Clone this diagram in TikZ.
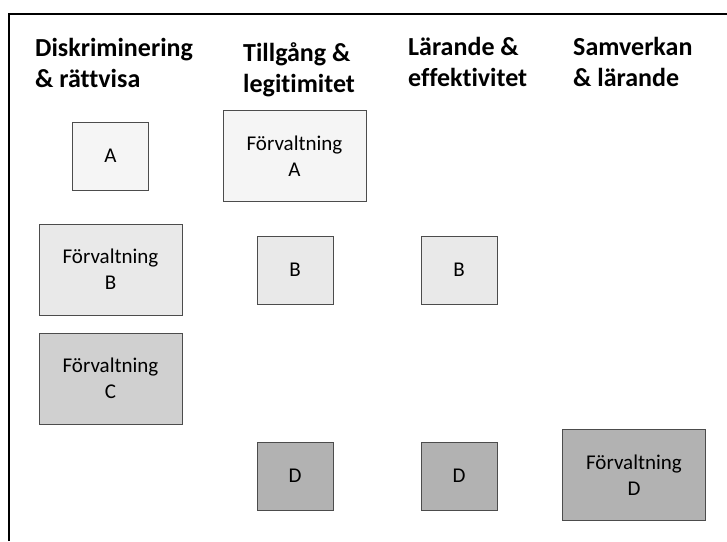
\documentclass[tikz,border=0pt]{standalone}
\usepackage{fontspec}
\setmainfont{Carlito}[Ligatures=NoCommon]
\usepackage{xcolor}
\usepackage{tikz}

\definecolor{levelA}{gray}{0.96}
\definecolor{levelB}{gray}{0.915}
\definecolor{levelC}{gray}{0.815}
\definecolor{levelD}{gray}{0.70}

\begin{document}
\begin{tikzpicture}[
      x=1pt, y=-1pt,
      every node/.style={inner sep=0pt},
      heading/.style={anchor=north west, align=left,
        font=\fontsize{26}{31}\selectfont\bfseries},
      unit/.style={draw=black!70, line width=0.9pt, align=center,
        font=\fontsize{21}{26}\selectfont},
      small/.style={unit, minimum width=76pt, minimum height=68pt},
      large/.style={unit, minimum width=143pt, minimum height=91pt},
    ]
    \useasboundingbox (0,0) rectangle (727,541);
    %% Outer frame, only its left and top sides fall on the page.
    \draw[black, line width=1.2pt] (9,541) -- (9,14) -- (727,14);
    %% Column headings.
    \node[heading] (h1) at (35,38.5)  {Diskriminering\\\& rättvisa};
    \node[heading] (h2) at (243,42)   {Tillgång \&\\legitimitet};
    \node[heading] (h3) at (408,37.5) {Lärande \&\\effektivitet};
    \node[heading] (h4) at (573,37.5) {Samverkan\\\& lärande};
    %% Row A.
    \node[small, fill=levelA] (a1) at (110.5,156) {A};
    \node[large, fill=levelA] (fa) at (294.5,156) {Förvaltning\\A};
    %% Row B.
    \node[large, fill=levelB] (fb) at (110.5,269.5) {Förvaltning\\B};
    \node[small, fill=levelB] (b2) at (295,270) {B};
    \node[small, fill=levelB] (b3) at (459,270) {B};
    %% Row C.
    \node[large, fill=levelC] (fc) at (110.5,378.5) {Förvaltning\\C};
    %% Row D.
    \node[small, fill=levelD] (d2) at (295,476) {D};
    \node[small, fill=levelD] (d3) at (459,476) {D};
    \node[large, fill=levelD] (fd) at (634,475) {Förvaltning\\D};
  \end{tikzpicture}
\end{document}
